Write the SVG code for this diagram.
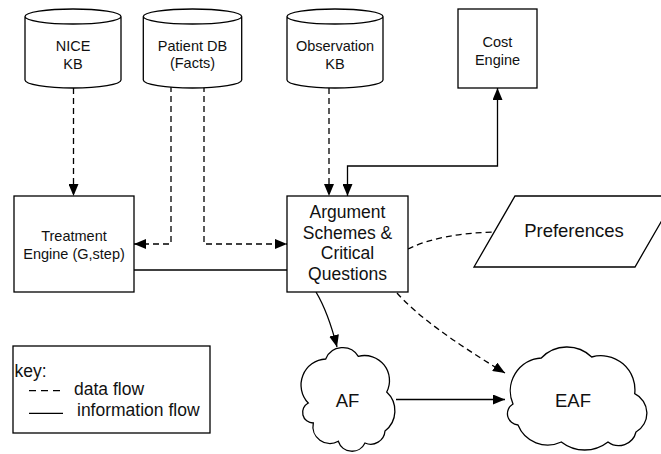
<svg xmlns="http://www.w3.org/2000/svg" width="661" height="454" viewBox="0 0 661 454">
<defs>
<style>
.sh{fill:#fff;stroke:#000;stroke-width:1.3}
.ln{fill:none;stroke:#000;stroke-width:1.3}
.da{stroke-dasharray:6 4}
text{font-family:"Liberation Sans",Arial,sans-serif;fill:#111;text-anchor:middle}
.s{font-size:14.5px}
.m{font-size:17.5px}
.l{font-size:18.5px}
.k{font-size:17.5px;text-anchor:start}
</style>
<marker id="ah" markerUnits="userSpaceOnUse" markerWidth="12" markerHeight="10" refX="12" refY="5" orient="auto-start-reverse">
<path d="M0,0 L12,5 L0,10 Z" fill="#000"/>
</marker>
</defs>
<rect width="661" height="454" fill="#fff"/>

<g id="connectors">
<path class="ln da" d="M73.5,88 L73.5,196" marker-end="url(#ah)"/>
<path class="ln da" d="M171,86 L171,244 L134,244" marker-end="url(#ah)"/>
<path class="ln da" d="M204,86 L204,244 L287,244" marker-end="url(#ah)"/>
<path class="ln da" d="M329,88 L329,196" marker-end="url(#ah)"/>
<path class="ln" d="M347.5,196 L347.5,166 L497.5,166 L497.5,88" marker-start="url(#ah)" marker-end="url(#ah)"/>
<path class="ln" d="M134,270 L287,270"/>
<path class="ln da" d="M408,249 C430,238 460,233 494,232"/>
<path class="ln da" d="M397,293 Q425,325 505,373" marker-end="url(#ah)"/>
<path class="ln" d="M316,292 Q328,312 337,347" marker-end="url(#ah)"/>
<path class="ln" d="M396,399.5 L505,399.5" marker-end="url(#ah)"/>
</g>

<g id="nice-kb">
<path class="sh" d="M25,16.5 L25,80 A48,8 0 0 0 121,80 L121,16.5 A48,7.5 0 0 0 25,16.5 A48,7.5 0 0 0 121,16.5"/>
<text class="s" x="73" y="50.5">NICE</text>
<text class="s" x="73" y="69">KB</text>
</g>

<g id="patient-db">
<path class="sh" d="M143.3,16.5 L143.3,80 A49.2,8 0 0 0 241.7,80 L241.7,16.5 A49.2,7.5 0 0 0 143.3,16.5 A49.2,7.5 0 0 0 241.7,16.5"/>
<text class="s" x="192.5" y="50.5">Patient DB</text>
<text class="s" x="192.5" y="68">(Facts)</text>
</g>

<g id="observation-kb">
<path class="sh" d="M287,16.5 L287,80 A48,8 0 0 0 383,80 L383,16.5 A48,7.5 0 0 0 287,16.5 A48,7.5 0 0 0 383,16.5"/>
<text class="s" x="335" y="50.5">Observation</text>
<text class="s" x="335" y="69">KB</text>
</g>

<g id="cost-engine">
<rect class="sh" x="458" y="9" width="79" height="79"/>
<text class="s" x="497.5" y="46.5">Cost</text>
<text class="s" x="497.5" y="65">Engine</text>
</g>

<g id="treatment-engine">
<rect class="sh" x="14" y="196" width="120" height="96"/>
<text class="s" x="74" y="241">Treatment</text>
<text class="s" x="74" y="259">Engine (G,step)</text>
</g>

<g id="argument-schemes">
<rect class="sh" x="287" y="196" width="121" height="96"/>
<text class="m" x="347.5" y="218.3">Argument</text>
<text class="m" x="347.5" y="238.8">Schemes &amp;</text>
<text class="m" x="347.5" y="259.3">Critical</text>
<text class="m" x="347.5" y="279.8">Questions</text>
</g>

<g id="preferences">
<path class="sh" d="M515,196 L676,196 L635,267 L474,267 Z"/>
<text class="l" x="574" y="237.3">Preferences</text>
</g>

<g id="af">
<path class="sh" d="M325.7,359 A18.4,18.4 0 0 1 358.3,356.3 A25,25 0 0 1 386.7,392 A25.6,25.6 0 0 1 385,431 A14.3,14.3 0 0 1 365,443 A14.4,14.4 0 0 1 338.3,441.3 A17,17 0 0 1 313.3,423 A10.6,10.6 0 0 1 308.3,403 A26,26 0 0 1 325.7,359 Z"/>
<text class="l" x="347.5" y="406.5">AF</text>
</g>

<g id="eaf">
<path class="sh" d="M541.3,358 A35.5,35.5 0 0 1 591.7,357 A34,34 0 0 1 634.7,393.7 A21.7,21.7 0 0 1 636,432 A17.8,17.8 0 0 1 608,442 A38,38 0 0 1 561.3,442 A32,32 0 0 1 518,425 A11.3,11.3 0 0 1 513,404 A33,33 0 0 1 541.3,358 Z"/>
<text class="l" x="573" y="407">EAF</text>
</g>

<g id="key">
<rect class="sh" x="13" y="346" width="197" height="87"/>
<text class="k" x="14.5" y="376.7">key:</text>
<path class="ln" d="M29,390.7 L60,390.7" stroke-dasharray="7 5"/>
<text class="k" x="74" y="395">data flow</text>
<path class="ln" d="M29,413.3 L63,413.3"/>
<text class="k" x="77" y="415.7">information flow</text>
</g>
</svg>
